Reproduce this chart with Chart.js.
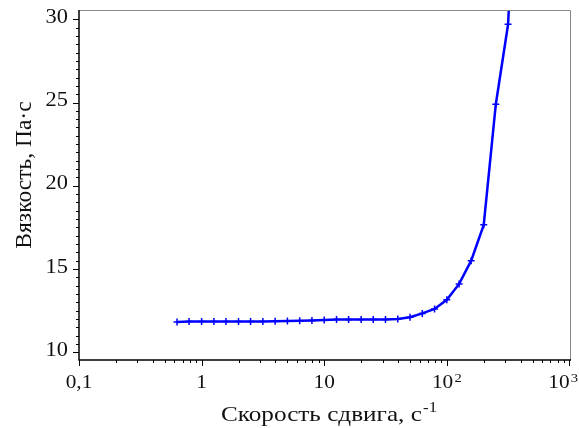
<!DOCTYPE html>
<html>
<head>
<meta charset="utf-8">
<script src="https://cdn.jsdelivr.net/npm/chart.js@4/dist/chart.umd.min.js"></script>
<style>
  body { margin: 0; background: #fff; }
  canvas { display: block; }
</style>
</head>
<body>
<canvas id="visc" width="579" height="428"></canvas>
<script>
// скорость сдвига, 1/с
const shearRate = [0.63, 0.79, 1, 1.26, 1.58, 2, 2.51, 3.16, 3.98, 5.01, 6.31, 7.94,
  10, 12.6, 15.8, 20, 25.1, 31.6, 39.8, 50.1, 63.1, 79.4,
  100, 126, 158, 200, 251, 316, 398];
// вязкость, Па·с (последняя точка за пределами графика)
const viscosity = [11.81, 11.84, 11.85, 11.85, 11.85, 11.85, 11.85, 11.85, 11.86, 11.88, 11.89, 11.91,
  11.94, 11.97, 11.97, 11.97, 11.97, 11.97, 12.0, 12.1, 12.33, 12.6,
  13.15, 14.1, 15.5, 17.65, 24.9, 29.7, 45];

// подписи делений: основание и степень
const xMajor = [0.1, 1, 10, 100, 1000];
const xLabels = [['0,1', ''], ['1', ''], ['10', ''], ['10', '2'], ['10', '3']];
const yMajor = [10, 15, 20, 25, 30];
const yLabels = ['10', '15', '20', '25', '30'];

const fontFam = '"Liberation Serif"';
const stretch = 1.12; // рисунок растянут по горизонтали

function fnt(px) { return px + 'px ' + fontFam; }

// рамка, мелкие засечки и все подписи
const framePlugin = {
  id: 'frame',
  afterDraw(chart) {
    const ctx = chart.ctx;
    const a = chart.chartArea;
    const xs = chart.scales.x, ys = chart.scales.y;
    ctx.save();
    // верх и право - серые
    ctx.strokeStyle = '#888';
    ctx.lineWidth = 1;
    ctx.beginPath();
    ctx.moveTo(a.left, a.top + 0.5);
    ctx.lineTo(a.right - 0.5, a.top + 0.5);
    ctx.lineTo(a.right - 0.5, a.bottom);
    ctx.stroke();
    // оси
    ctx.strokeStyle = '#000';
    ctx.lineWidth = 1.5;
    ctx.beginPath();
    ctx.moveTo(a.left, a.top);
    ctx.lineTo(a.left, a.bottom);
    ctx.lineTo(a.right, a.bottom);
    ctx.stroke();
    // засечки по Y
    ctx.lineWidth = 1;
    ctx.beginPath();
    for (let v = 10; v <= 30.001; v += 0.5) {
      const y = Math.round(ys.getPixelForValue(v)) + 0.5;
      const len = (Math.abs(v % 5) < 0.01) ? 6 : 3;
      ctx.moveTo(a.left - len, y);
      ctx.lineTo(a.left, y);
    }
    // засечки по X
    for (let d = 0.1; d < 1001; d *= 10) {
      for (let m = 1; m <= 9; m++) {
        const v = d * m;
        if (v > 1000.5) break;
        const x = Math.round(xs.getPixelForValue(v)) + 0.5;
        const len = (m === 1) ? 6 : 3;
        ctx.moveTo(x, a.bottom);
        ctx.lineTo(x, a.bottom + len);
      }
    }
    ctx.stroke();

    ctx.fillStyle = '#111';
    // подписи Y
    ctx.font = fnt(20);
    ctx.textAlign = 'right';
    ctx.textBaseline = 'middle';
    yMajor.forEach((v, i) => {
      ctx.save();
      ctx.translate(68, ys.getPixelForValue(v) - 1.5);
      ctx.scale(stretch, 1);
      ctx.fillText(yLabels[i], 0, 0);
      ctx.restore();
    });
    // подписи X
    ctx.textAlign = 'left';
    ctx.textBaseline = 'alphabetic';
    xMajor.forEach((v, i) => {
      const [base, pw] = xLabels[i];
      ctx.font = fnt(19);
      const wb = ctx.measureText(base).width;
      ctx.font = fnt(13);
      const wp = pw ? ctx.measureText(pw).width + 1 : 0;
      const w = (wb + wp) * stretch;
      let cx = xs.getPixelForValue(v);
      if (cx + w / 2 > 578) cx = 578 - w / 2;
      ctx.save();
      ctx.translate(cx - w / 2, 388);
      ctx.scale(stretch, 1);
      ctx.font = fnt(19);
      ctx.fillText(base, 0, 0);
      if (pw) {
        ctx.font = fnt(13);
        ctx.fillText(pw, wb + 1, -6);
      }
      ctx.restore();
    });
    // подпись Y
    ctx.font = fnt(21);
    ctx.textAlign = 'center';
    ctx.textBaseline = 'middle';
    ctx.save();
    ctx.translate(25, 175);
    ctx.rotate(-Math.PI / 2);
    ctx.scale(1.12, 1.1);
    ctx.fillText('Вязкость, Па·с', 0, 0);
    ctx.restore();
    // подпись X с верхним индексом
    const main = 'Скорость сдвига, с';
    const sup = '-1';
    const tStretch = 1.2;
    ctx.font = fnt(21);
    const w1 = ctx.measureText(main).width;
    ctx.font = fnt(14);
    const w2 = ctx.measureText(sup).width;
    ctx.textAlign = 'left';
    ctx.textBaseline = 'alphabetic';
    ctx.save();
    ctx.translate(329 - (w1 + w2 + 1) * tStretch / 2, 421);
    ctx.scale(tStretch, 1);
    ctx.font = fnt(21);
    ctx.fillText(main, 0, 0);
    ctx.font = fnt(14);
    ctx.fillText(sup, w1 + 1, -9);
    ctx.restore();
    ctx.restore();
  }
};

new Chart(document.getElementById('visc').getContext('2d'), {
  type: 'line',
  data: {
    datasets: [{
      data: shearRate.map((x, i) => ({ x: x, y: viscosity[i] })),
      borderColor: '#0000ff',
      backgroundColor: '#0000ff',
      borderWidth: 2.5,
      tension: 0,
      pointStyle: 'cross',
      pointRadius: 3.5,
      pointBorderWidth: 1.5,
      pointBorderColor: '#0000ff'
    }]
  },
  options: {
    responsive: false,
    animation: false,
    devicePixelRatio: 1,
    layout: { padding: { top: 10, right: 8, left: 0, bottom: 0 } },
    plugins: { legend: { display: false }, tooltip: { enabled: false } },
    scales: {
      x: {
        type: 'logarithmic',
        min: 0.1,
        max: 1030,
        grid: { display: false },
        border: { display: false },
        ticks: { display: false },
        afterBuildTicks: s => { s.ticks = xMajor.map(v => ({ value: v })); },
        afterFit: s => { s.height = 68; s.paddingLeft = 0; s.paddingRight = 0; }
      },
      y: {
        type: 'linear',
        min: 9.53,
        max: 30.56,
        grid: { display: false },
        border: { display: false },
        ticks: { display: false },
        afterBuildTicks: s => { s.ticks = yMajor.map(v => ({ value: v })); },
        afterFit: s => { s.width = 79; s.paddingTop = 0; s.paddingBottom = 0; }
      }
    }
  },
  plugins: [framePlugin]
});
</script>
</body>
</html>
